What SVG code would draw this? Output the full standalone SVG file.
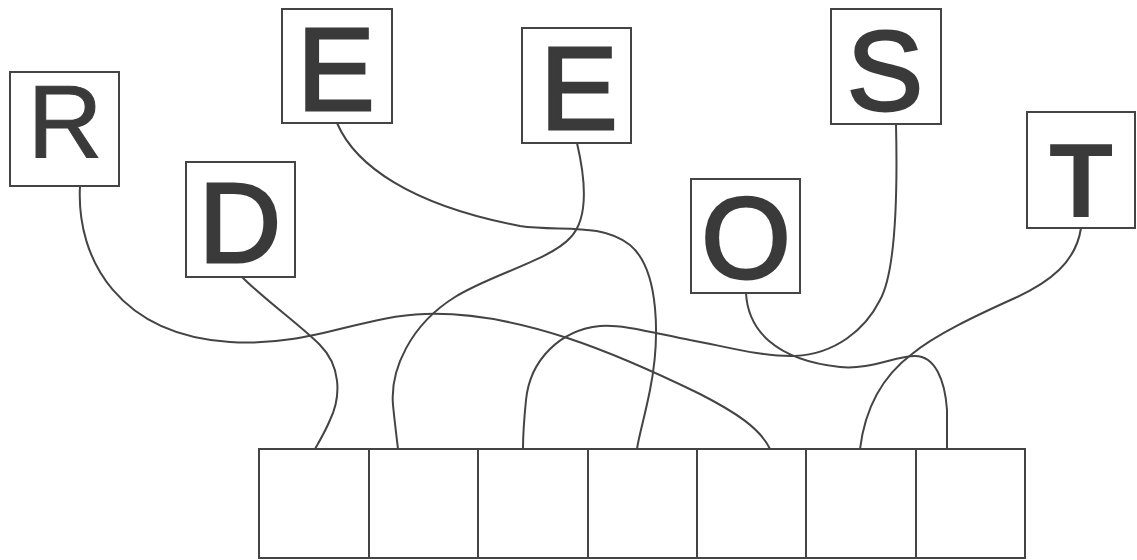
<svg xmlns="http://www.w3.org/2000/svg" width="1137" height="560" viewBox="0 0 1137 560">
<style>
.box{fill:#fff;stroke:#444;stroke-width:2}
.cell{fill:#fff;stroke:#444;stroke-width:2}
.lt{font-family:"Liberation Sans",Arial,sans-serif;fill:#3a3a3a;text-anchor:middle}
.hv{stroke:#3a3a3a;stroke-width:3;stroke-linejoin:miter}
.wire{fill:none;stroke:#444;stroke-width:2;stroke-linecap:round}
</style>
<rect width="1137" height="560" fill="#fff"/>
<g id="connectors">
<path class="wire" d="M80,186 C76,260 120,335 230,342 C310,347 360,316 425,314 C520,311 620,355 700,394 C735,412 760,428 770,449"/>
<path class="wire" d="M242,277 C265,300 300,325 320,345 C340,365 342,395 330,420 C325,432 320,440 315,449"/>
<path class="wire" d="M337,123 C355,165 410,205 520,226 C560,232 600,222 630,245 C660,270 660,340 650,390 C644,420 639,435 637,449"/>
<path class="wire" d="M577,143 C588,190 586,222 570,238 C550,260 490,275 455,297 C410,325 390,370 393,405 C395,425 397,440 398,449"/>
<path class="wire" d="M746,293 C748,330 775,360 840,367 C870,370 895,356 915,356 C935,356 945,380 947,410 L947,449"/>
<path class="wire" d="M896,124 C898,210 894,275 880,300 C865,330 835,354 795,356 C760,357 720,345 690,340 C650,332 620,324 600,326 C560,330 530,360 526,400 C524,420 523,435 523,449"/>
<path class="wire" d="M1081,228 C1076,262 1050,282 1015,298 C975,316 935,335 912,354 C888,372 866,400 860,449"/>
</g>
<g id="node-R"><rect class="box" x="10" y="72" width="109" height="114"/><text class="lt" x="65" y="158" font-size="104" stroke="#3a3a3a" stroke-width="1">R</text></g>
<g id="node-E1"><rect class="box" x="282" y="9" width="110" height="114"/><text class="lt hv" x="336" y="109.5" font-size="116">E</text></g>
<g id="node-D"><rect class="box" x="186" y="162" width="109" height="115"/><text class="lt hv" x="240" y="261.5" font-size="114">D</text></g>
<g id="node-E2"><rect class="box" x="522" y="28" width="109" height="115"/><text class="lt hv" x="579" y="128.5" font-size="116">E</text></g>
<g id="node-O"><rect class="box" x="691" y="179" width="109" height="114"/><text class="lt hv" x="746" y="277.5" font-size="115">O</text></g>
<g id="node-S"><rect class="box" x="831" y="9" width="110" height="115"/><text class="lt hv" x="885" y="109.5" font-size="114">S</text></g>
<g id="node-T"><rect class="box" x="1027" y="112" width="108" height="116"/><text class="lt" x="1081" y="217" font-size="105" font-weight="bold">T</text></g>
<g id="answer-row">
<rect class="cell" x="259" y="449" width="110" height="109"/>
<rect class="cell" x="369" y="449" width="109" height="109"/>
<rect class="cell" x="478" y="449" width="110" height="109"/>
<rect class="cell" x="588" y="449" width="109" height="109"/>
<rect class="cell" x="697" y="449" width="109" height="109"/>
<rect class="cell" x="806" y="449" width="110" height="109"/>
<rect class="cell" x="916" y="449" width="109" height="109"/>
</g>
</svg>
